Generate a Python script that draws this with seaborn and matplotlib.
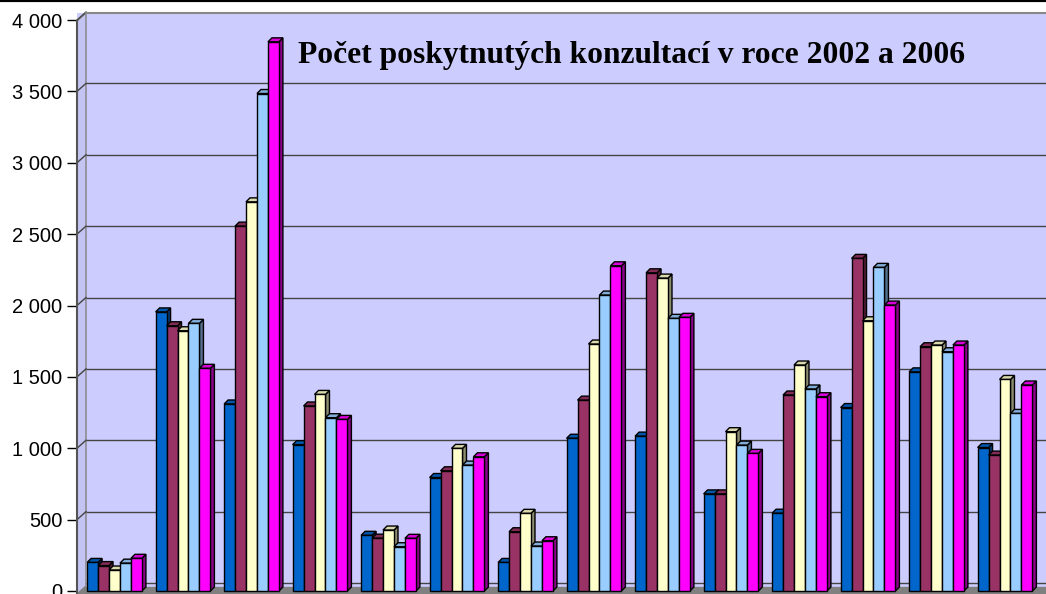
# ================== IMPORTS ================== #
import numpy as np
import pandas as pd
import matplotlib
matplotlib.use("Agg")
import matplotlib.pyplot as plt
import matplotlib.colors as mcolors
import matplotlib.transforms as mtransforms
from matplotlib.patches import Polygon
from matplotlib.lines import Line2D
import seaborn as sns

# ================== DATA ================== #
skupiny = [str(i) for i in range(1, 15)]
roky = ["2002", "2003", "2004", "2005", "2006"]
r2002 = [200, 1955, 1310, 1025, 390, 795, 200, 1070, 1085, 680, 545, 1285, 1535, 1005]
r2003 = [178, 1858, 2556, 1296, 370, 842, 415, 1337, 2229, 680, 1373, 2330, 1711, 952]
r2004 = [147, 1823, 2726, 1377, 427, 999, 544, 1730, 2192, 1116, 1583, 1893, 1723, 1482]
r2005 = [195, 1875, 3485, 1214, 310, 882, 315, 2073, 1910, 1022, 1415, 2267, 1676, 1244]
r2006 = [229, 1560, 3847, 1202, 369, 940, 352, 2278, 1917, 964, 1361, 2003, 1723, 1443]
y_ticks = [0, 500, 1000, 1500, 2000, 2500, 3000, 3500, 4000]
barvy = ["#0066CC", "#993366", "#FFFFCC", "#99CCFF", "#FF00FF"]
titulek = "Počet poskytnutých konzultací v roce 2002 a 2006"

df = pd.DataFrame({
    "skupina": skupiny * 5,
    "rok": np.repeat(roky, len(skupiny)),
    "pocet": r2002 + r2003 + r2004 + r2005 + r2006,
})

# ================== LAYOUT ================== #
W, H = 1046, 594
fig = plt.figure(figsize=(W / 100, H / 100), dpi=100)
ax_left, ax_top = 77, 13          # pixely
ax = fig.add_axes([ax_left / W, 0, (W - ax_left) / W, (H - ax_top) / H])

sns.barplot(data=df, x="skupina", y="pocet", hue="rok", palette=barvy,
            saturation=1, edgecolor="black", linewidth=1, width=0.8,
            legend=False, ax=ax)

px_unit = 571 / 4000               # pixely na jednotku
ax.set_ylim(-3 / px_unit, (H - ax_top - 3) / px_unit)
skok = 68.5
ax.set_xlim(-37.5 / skok, -37.5 / skok + (W - ax_left) / skok)

ax.set_facecolor("#CCCCFF")
for s in ax.spines.values():
    s.set_visible(False)
ax.set_xticks([])
ax.set_xlabel("")
ax.set_ylabel("")
ax.set_yticks(y_ticks)
ax.set_yticklabels([f"{v:,}".replace(",", " ") for v in y_ticks])
ax.tick_params(axis="y", direction="out", length=7.2, width=1, pad=3.5,
               labelsize=14.5, colors="black")
for lab in ax.get_yticklabels():
    lab.set_fontfamily("Liberation Sans")

# mrizka na zadni stene (posunuta dozadu)
dx_w, dy_w = 9, 8
posun = mtransforms.ScaledTranslation(dx_w / 100, dy_w / 100, fig.dpi_scale_trans)
ax.grid(axis="y", color="#444444", linewidth=1)
ax.set_axisbelow(True)
for gl in ax.get_ygridlines():
    gl.set_transform(gl.get_transform() + posun)

# podlaha
ax.axhspan(ax.get_ylim()[0], 4.3 / px_unit, color="#808080", zorder=1)

# bocni stena vlevo
x0d, y0d = ax.transAxes.transform((0, 0))
_, y1d = ax.transAxes.transform((0, 1))
stena = Polygon([(x0d, y0d), (x0d + dx_w, y0d + dy_w), (x0d + dx_w, y1d),
                 (x0d, y1d - dy_w)], closed=True, transform=None,
                facecolor="#C4C4F2", edgecolor="#808080", lw=1, zorder=1.5)
fig.add_artist(stena)
for v in y_ticks[1:]:
    _, yv = ax.transData.transform((0, v))
    fig.add_artist(Line2D([x0d, x0d + dx_w], [yv, yv + dy_w], transform=None,
                          color="#444444", lw=1, zorder=1.6))
fig.add_artist(Line2D([x0d, x0d], [y0d, y1d - dy_w], transform=None,
                      color="#555555", lw=1.5, zorder=1.7))
fig.add_artist(Line2D([x0d + dx_w, W], [y1d, y1d], transform=None,
                      color="#888888", lw=1.5, zorder=1.7))

# ================== 3D EFEKT SLOUPCU ================== #
dx, dy = 4, 4
for k, cont in enumerate(ax.containers):
    zk = 3 + k * 0.1
    bok = np.array(mcolors.to_rgb(barvy[k])) * 0.55
    vrch = np.array(mcolors.to_rgb(barvy[k])) * 0.85
    for bar in cont:
        bar.set_zorder(zk)
        xa, xb = bar.get_x(), bar.get_x() + bar.get_width()
        (pxa, pya), (pxb, pyb) = ax.transData.transform([(xa, 0), (xb, bar.get_height())])
        side = Polygon([(pxb, pya), (pxb + dx, pya + dy), (pxb + dx, pyb + dy), (pxb, pyb)],
                       closed=True, transform=None, facecolor=bok,
                       edgecolor="black", lw=1, zorder=zk - 0.05)
        cap = Polygon([(pxa, pyb), (pxa + dx, pyb + dy), (pxb + dx, pyb + dy), (pxb, pyb)],
                      closed=True, transform=None, facecolor=vrch,
                      edgecolor="black", lw=1, zorder=zk - 0.05)
        ax.add_artist(side)
        ax.add_artist(cap)
        side.set_clip_on(False)
        cap.set_clip_on(False)

# ================== TITULEK A RAMECEK ================== #
fig.text(632 / W, 1 - 55 / H, titulek, ha="center", va="center",
         fontsize=22.7, fontweight="bold", family="Liberation Serif")
fig.add_artist(Line2D([0, 1], [1, 1], transform=fig.transFigure,
                      color="black", lw=3))

fig.savefig("out.png", dpi=100)
